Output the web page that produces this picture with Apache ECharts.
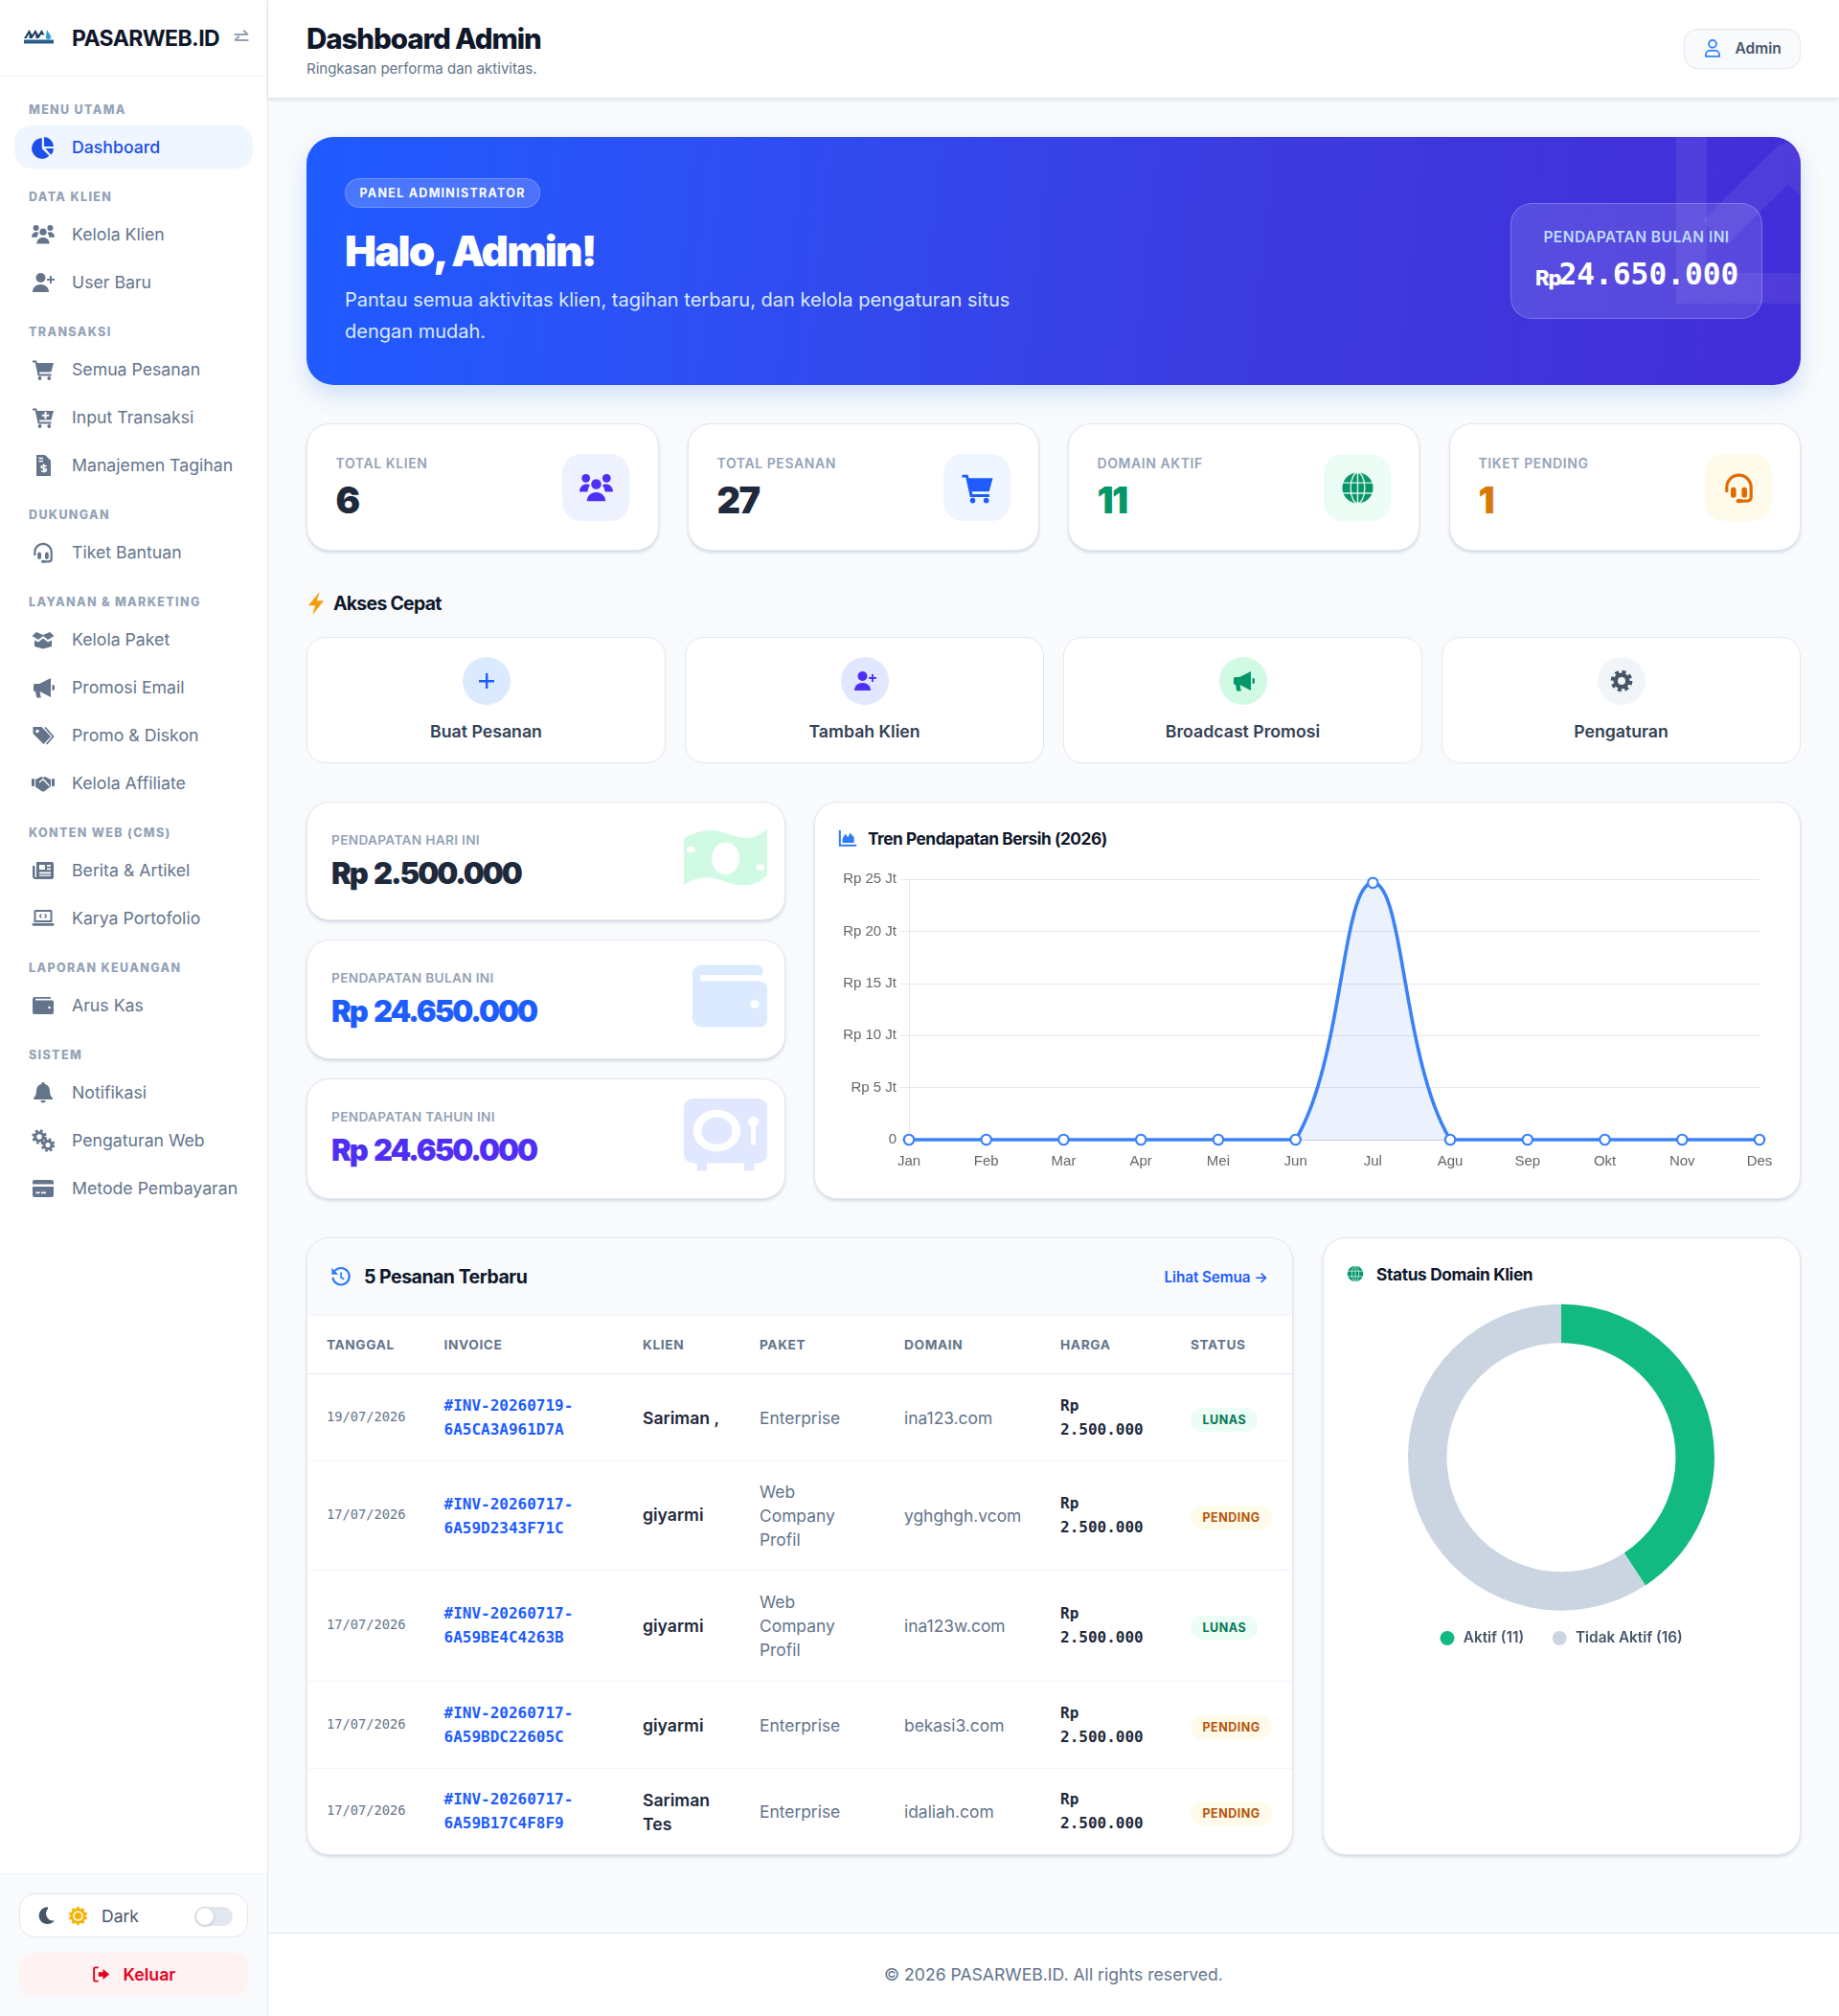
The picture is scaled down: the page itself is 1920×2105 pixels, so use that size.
<!DOCTYPE html>
<html lang="id"><head><meta charset="utf-8"><title>Dashboard Admin</title>
<script src="https://cdn.jsdelivr.net/npm/echarts@6/dist/echarts.min.js"></script>
<style>
*{box-sizing:border-box}
html,body{margin:0;padding:0;background:#f8fafc}
body{width:1920px;height:2105px;position:relative;overflow:hidden;font-family:Inter,sans-serif;color:#1e293b}
.a{position:absolute;white-space:nowrap}
.c{display:flex;align-items:center}
.card{position:absolute;background:#fff;border:1.5px solid #e2e8f0;border-radius:24px;box-shadow:0 2px 3px rgba(148,163,184,.35)}
.h{font-weight:800}
.mono{font-family:"DejaVu Sans Mono",monospace}
svg{display:block;fill:currentColor}
</style></head><body>
<script>
// ---------- chart data ----------
const months=['Jan','Feb','Mar','Apr','Mei','Jun','Jul','Agu','Sep','Okt','Nov','Des'];
const netRevenue=[0,0,0,0,0,0,24650000,0,0,0,0,0];
const yTickStep=5000000;
const yMax=25000000;
const domainLabels=['Aktif','Tidak Aktif'];
const domainCounts=[11,16];
const domainColors=['#12b981','#cbd5e1'];
// ---------- page content ----------
const navGroups=[
 ['MENU UTAMA',[['pie','Dashboard']]],
 ['DATA KLIEN',[['users','Kelola Klien'],['userplus','User Baru']]],
 ['TRANSAKSI',[['cart','Semua Pesanan'],['cartplus','Input Transaksi'],['file','Manajemen Tagihan']]],
 ['DUKUNGAN',[['headset','Tiket Bantuan']]],
 ['LAYANAN & MARKETING',[['box','Kelola Paket'],['horn','Promosi Email'],['tags','Promo & Diskon'],['hands','Kelola Affiliate']]],
 ['KONTEN WEB (CMS)',[['news','Berita & Artikel'],['laptop','Karya Portofolio']]],
 ['LAPORAN KEUANGAN',[['wallet','Arus Kas']]],
 ['SISTEM',[['bell','Notifikasi'],['cogs','Pengaturan Web'],['credit','Metode Pembayaran']]]
];
const statCards=[['TOTAL KLIEN','6','#1e293b','users','#eef2ff','#4f2ff5'],['TOTAL PESANAN','27','#1e293b','cart','#eff6ff','#1d5cff'],['DOMAIN AKTIF','11','#059669','globe','#ecfdf5','#059669'],['TIKET PENDING','1','#d97706','headset','#fffbeb','#e26a00']];
const quickLinks=[['Buat Pesanan','plus','#dbeafe','#1d5cff'],['Tambah Klien','userplus','#e0e7ff','#4f2ff5'],['Broadcast Promosi','horn','#d1fae5','#059669'],['Pengaturan','gear','#f1f5f9','#475569']];
const revenueCards=[['PENDAPATAN HARI INI','Rp 2.500.000','#1e293b'],['PENDAPATAN BULAN INI','Rp 24.650.000','#1d5cff'],['PENDAPATAN TAHUN INI','Rp 24.650.000','#4f2ff5']];
const orders=[
 ['19/07/2026','#INV-20260719-','6A5CA3A961D7A',['Sariman ,'],['Enterprise'],'ina123.com','LUNAS'],
 ['17/07/2026','#INV-20260717-','6A59D2343F71C',['giyarmi'],['Web','Company','Profil'],'yghghgh.vcom','PENDING'],
 ['17/07/2026','#INV-20260717-','6A59BE4C4263B',['giyarmi'],['Web','Company','Profil'],'ina123w.com','LUNAS'],
 ['17/07/2026','#INV-20260717-','6A59BDC22605C',['giyarmi'],['Enterprise'],'bekasi3.com','PENDING'],
 ['17/07/2026','#INV-20260717-','6A59B17C4F8F9',['Sariman','Tes'],['Enterprise'],'idaliah.com','PENDING']
];
const tableHead=['TANGGAL','INVOICE','KLIEN','PAKET','DOMAIN','HARGA','STATUS'];
const orderPrice=['Rp','2.500.000'];

const gearSvg=(cx,cy,s)=>`<circle cx="${cx}" cy="${cy}" r="${7.6*s}" fill="none" stroke="currentColor" stroke-width="${3*s}" stroke-dasharray="${3.2*s} ${2.8*s}"/><circle cx="${cx}" cy="${cy}" r="${5*s}" fill="none" stroke="currentColor" stroke-width="${3.6*s}"/>`;
const ic={
pie:'<path d="M10.8 2.2v11l7.6 7.6A10.8 10.8 0 1 1 10.8 2.2z"/><path d="M13 1a10.5 10.5 0 0 1 10 10H13z"/><path d="M14.5 13H23a10.6 10.6 0 0 1-2.9 6.8z"/>',
users:'<circle cx="4.6" cy="5" r="3"/><circle cx="19.4" cy="5" r="3"/><circle cx="12" cy="9.2" r="3.6"/><path d="M0 14.8c0-3.2 2.1-5.6 4.8-5.6 1.1 0 2 .3 2.8.9-1.1 1.3-1.7 2.9-1.8 4.7zM24 14.8c0-3.2-2.1-5.6-4.8-5.6-1.1 0-2 .3-2.8.9 1.1 1.3 1.7 2.9 1.8 4.7zM5.3 21.5c0-3.8 2.9-6.5 6.7-6.5s6.7 2.7 6.7 6.5z"/>',
userplus:'<circle cx="9.5" cy="7" r="5"/><path d="M1 22c0-5 3.6-8 8.5-8s8.5 3 8.5 8z"/><rect x="19" y="5" width="1.9" height="8"/><rect x="16" y="8" width="8" height="1.9"/>',
cart:'<path d="M1 2.5h4.2l.6 2.5H23l-2.6 9.5H8l.4 2h12.1v2H6.7L3.7 4.5H1z"/><circle cx="8.6" cy="21" r="1.9"/><circle cx="18.3" cy="21" r="1.9"/>',
cartplus:'<path d="M1 2.5h4.2l.6 2.5H23l-2.6 9.5H8l.4 2h12.1v2H6.7L3.7 4.5H1z"/><circle cx="8.6" cy="21" r="1.9"/><circle cx="18.3" cy="21" r="1.9"/><path fill="#fff" d="M13.5 6h2v2.8h2.8v2h-2.8v2.8h-2v-2.8h-2.8v-2h2.8z"/>',
file:'<path d="M5 1h9l6 6v16H5z"/><path fill="none" stroke="#fff" stroke-width="1.5" d="M15.5 13c-1-1.2-5.5-1.2-5.5.8s5.5 1 5.5 3-4.5 2-5.5.8M12.7 10.5v9M7.5 4.5H12M7.5 7.5H12"/>',
headset:'<path fill="none" stroke="currentColor" stroke-width="2.2" d="M3.3 15v-3.5a8.7 8.7 0 0 1 17.4 0v7c0 1.8-1.3 2.8-3 2.8H13"/><rect x="6.2" y="11.5" width="3.8" height="7.5" rx="1.9"/><rect x="14" y="11.5" width="3.8" height="7.5" rx="1.9"/><rect x="10" y="19.8" width="4.5" height="3" rx="1.5"/>',
box:'<path d="M.5 8L5 4l7 3 7-3 4.5 4-6.5 4-5-4-5 4zM3 12.5l4 2 5-4 5 4 4-2V19l-9 2.5L3 19z"/>',
horn:'<path d="M20 2L8 8H3.5A1.5 1.5 0 0 0 2 9.5v5A1.5 1.5 0 0 0 3.5 16H4l1.2 6.5h4.6L8.6 16 20 22zM21.5 9v6a3 3 0 0 0 0-6z"/>',
tags:'<path d="M1.5 3h9L20 13l-7.5 8-11-11z"/><circle cx="6" cy="7.5" r="1.8" fill="#fff"/><path fill="none" stroke="currentColor" stroke-width="1.7" d="M14 3.5l8.500 9.500-7 8"/>',
hands:'<rect y="7" width="3" height="8" rx=".8"/><rect x="21" y="7" width="3" height="8" rx=".8"/><path d="M4 8l6-3 2 .8L14 5l6 3v7l-7 5.5h-2l-7-5z"/><path fill="none" stroke="#fff" stroke-width="1.3" d="M8 11l4-3.5 6.5 7"/>',
news:'<path d="M5 3h16a2 2 0 0 1 2 2v14a2 2 0 0 1-2 2H4a3 3 0 0 1-3-3V7h2.500v11c0 .5.3 1 .8 1S5 18.5 5 18z"/><path fill="#fff" d="M8 6h6v5H8zM16 6h4v1.8h-4zM16 9.500h4v1.8h-4zM8 13.5h12v1.8H8zM8 16.5h12v1.2H8z"/>',
laptop:'<path fill-rule="evenodd" d="M4 3h16a1.5 1.5 0 0 1 1.5 1.500V16h-19V4.500A1.5 1.5 0 0 1 4 3zm.5 2v9h15V5z"/><rect x=".5" y="17" width="23" height="2.8" rx="1.4"/><path fill="none" stroke="currentColor" stroke-width="1.3" d="M10.3 7.5L8.5 9.5l1.8 2M13.7 7.5l1.8 2-1.8 2"/>',
wallet:'<path d="M3.5 3H20v1.8H4v1.7h17.5A1.5 1.5 0 0 1 23 8v11a2 2 0 0 1-2 2H3a2 2 0 0 1-2-2V5.500A2.5 2.5 0 0 1 3.5 3z"/><circle cx="18.5" cy="14" r="1.3" fill="#fff"/>',
bigwallet:'<path d="M3 .5h17.5a2 2 0 0 1 2 2v1.8H2.500v2.200h19A2.500 2.500 0 0 1 24 9v12a2.500 2.500 0 0 1-2.500 2.500H3a3 3 0 0 1-3-3v-17a3 3 0 0 1 3-3z"/><circle cx="20" cy="15" r="1.5" fill="#fff"/>',
bell:'<path d="M12 1a1.900 1.900 0 0 1 1.900 1.900c3.500.9 5.100 3.700 5.100 7.100 0 4 1 5.500 2.800 7.300V19H2.200v-1.700C4 15.500 5 14 5 10c0-3.400 1.600-6.200 5.100-7.100A1.900 1.900 0 0 1 12 1zM9.500 20h5a2.500 2.500 0 0 1-5 0z"/>',
cogs:gearSvg(8,8,.85)+gearSvg(17,16.5,.8),
gear:gearSvg(12,12,1.25),
credit:'<path d="M3 3h18a2 2 0 0 1 2 2v2.500H1V5a2 2 0 0 1 2-2zM1 10h22v9a2 2 0 0 1-2 2H3a2 2 0 0 1-2-2z"/><path fill="#fff" d="M4.500 15.500h4v1.700h-4zM10 15.500h5v1.700h-5z"/>',
globe:'<circle cx="12" cy="12" r="11"/><g fill="none" stroke="#fff" stroke-opacity=".85" stroke-width="1"><ellipse cx="12" cy="12" rx="5" ry="11"/><path d="M1 8.300h22M1 15.700h22M12 1v22"/></g>',
bolt:'<path d="M15.500 1L4.500 14h6.700L8.500 23l11-13.500h-6.800z"/>',
plus:'<path d="M11 4h2.400v7H20v2.400h-6.600V20H11v-6.600H4V11h7z"/>',
money:'<path d="M0 4.500c3-2 5-3 8-3 4 0 6 3 10 3 2 0 4-1.500 6-3.500v18c-2 2.500-4 4-7 4-4 0-7-3-10-3-3 0-5 1-7 3z"/><ellipse cx="12" cy="12.500" rx="4" ry="6.300" fill="#fff"/><circle cx="2" cy="9" r="1.200" fill="#fff"/><circle cx="22" cy="16" r="1.200" fill="#fff"/>',
vault:'<rect x="0" y="0" width="24" height="21" rx="2.800"/><rect x="3.800" y="20" width="2.800" height="3.500"/><rect x="17.400" y="20" width="2.800" height="3.500"/><circle cx="9.500" cy="10.500" r="5.600" fill="none" stroke="#fff" stroke-width="2.400"/><circle cx="20" cy="7.500" r="1.600" fill="#fff"/><rect x="19.300" y="7.500" width="1.400" height="7.500" fill="#fff"/>',
history:'<g fill="none" stroke="currentColor" stroke-width="2.300"><path d="M4.800 5.500A9.500 9.500 0 1 1 2.600 13"/><path d="M12 7v5.500l3.500 2.500" stroke-width="1.800"/></g><path d="M1.500 2v7.500H9z"/>',
area:'<path d="M1 2h2.400v18H23v2.400H1z"/><path d="M5.500 18v-5.500L9 7l3.500 4 2.500-5.500 5 5.500v7z"/>',
user:'<g fill="none" stroke="currentColor" stroke-width="2.100"><circle cx="12" cy="7" r="4.700"/><path d="M3.500 22.500v-1.800c0-3.300 2.400-5.200 5-5.200h7c2.600 0 5 1.900 5 5.200v1.800z"/></g>',
moon:'<path d="M14.500 1.500a10.700 10.700 0 1 0 8 17 9 9 0 0 1-8-15z"/>',
sun:'<path d="M12 0l2.600 3.800L19 2.600l.2 4.600 4.300 1.300-2.600 3.500 2.600 3.500-4.300 1.300-.2 4.600-4.400-1.200L12 24l-2.600-3.800L5 21.400l-.2-4.600L.5 15.500 3.100 12 .5 8.500l4.300-1.300L5 2.600l4.400 1.200z"/><circle cx="12" cy="12" r="6" fill="#fff"/><circle cx="12" cy="12" r="4.200"/>',
signout:'<path fill="none" stroke="currentColor" stroke-width="2.400" d="M8.500 3H4.500A1.800 1.800 0 0 0 2.700 4.800v14.400A1.800 1.800 0 0 0 4.500 21h4"/><path d="M8.500 9.200h6V5l8.500 7-8.500 7v-4.200h-6z"/>',
swap:'<g fill="none" stroke="currentColor" stroke-width="2.800"><path d="M2 8h19M15 2.500L21 8M22 16H3M9 10.500L3 16"/></g>'
};
const svg=(k,s,col,extra='')=>`<svg viewBox="0 0 24 24" width="${s}" height="${s}" style="color:${col};${extra}">${ic[k]}</svg>`;
let html='';
const A=(x,y,w,h,st,inner='',cls='a')=>{html+=`<div class="${cls}" style="left:${x}px;top:${y}px;${w!=null?`width:${w}px;`:''}${h!=null?`height:${h}px;`:''}${st}">${inner}</div>`;};
// text vertically centred on y
const T=(x,y,st,txt,cls='a c')=>{html+=`<div class="${cls}" style="left:${x}px;top:${y-20}px;height:40px;${st}">${txt}</div>`;};

// ---------- sidebar ----------
A(0,0,280,2105,'background:#fff;border-right:1.5px solid #e2e8f0');
A(0,79,279,1,'background:#f1f5f9');
html+=`<svg class="a" style="left:25px;top:29px" width="31" height="17" viewBox="0 0 31 17"><path fill="#1c3f66" d="M0 11L5.5 2l3 5.5L12 2l3 5.5L18.5 2l3 5.5h-3L18.5 6l-3 5h-3L12 6l-3.500 5h-3L5.500 6l-3 5z"/><path fill="#2aa3d9" d="M24 2l4 6.500c1 2-.5 3.500-2.500 3.500s-3.500-1.500-2.500-3.500z"/><rect y="12.500" width="31" height="4" fill="#2a5d8c"/></svg>`;
T(75,40,'font-size:23px;font-weight:700;letter-spacing:-.6px;color:#0f172a','PASARWEB.ID');
A(243,30,18,18,'',svg('swap',18,'#94a3b8'));
let y=90;
navGroups.forEach(([g,items])=>{
  T(30,y+24.5,'font-size:12.5px;font-weight:800;letter-spacing:1.35px;color:#94a3b8',g);
  y+=41;
  items.forEach(([icon,label])=>{
    const active=label==='Dashboard';
    if(active) A(15,y,249,45,'background:#eff6ff;border-radius:18px');
    A(33,y+10.5,24,24,'',svg(icon,24,active?'#1d4fe8':'#64748b'));
    T(75,y+22.7,`font-size:17.7px;font-weight:${active?500:400};color:${active?'#1d4fe8':'#64748b'}`,label);
    y+=50;
  });
});
A(0,1956,279,149,'background:#f8fafc;border-top:1.5px solid #eef2f7');
A(20,1977,239,46,'background:#fff;border:1.5px solid #e2e8f0;border-radius:16px');
A(38,1990,20,20,'',svg('moon',20,'#475569'));
A(71,1990,21,21,'',svg('sun',21,'#f5b301'));
T(106,2000.5,'font-size:17.5px;color:#475569','Dark');
A(203,1991,40,20,'background:#e2e8f0;border-radius:10px');
A(203.5,1991,20,20,'background:#fff;border:1.5px solid #cbd5e1;border-radius:50%;box-shadow:0 1px 2px rgba(0,0,0,.15)');
A(20,2039,239,45,'background:#fef2f2;border-radius:16px');
A(95.5,2052,19,19,'',svg('signout',19,'#e6001f'));
T(128.5,2061.5,'font-size:17.7px;font-weight:600;color:#e6001f','Keluar');

// ---------- top bar ----------
A(280,0,1640,102,'background:#fff;box-shadow:0 2px 4px rgba(148,163,184,.3)');
T(320,39.5,'font-size:29.5px;letter-spacing:-1.08px;color:#0f172a','Dashboard Admin','a c h');
T(320,71.5,'font-size:15px;color:#64748b','Ringkasan performa dan aktivitas.');
A(1758,30,122,42,'background:#f8fafc;border:1.5px solid #e2e8f0;border-radius:14px');
A(1778,40,20,21,'',svg('user',20,'#2f80ff'));
T(1811.5,50.5,'font-size:15.5px;font-weight:600;color:#475569','Admin');

// ---------- hero ----------
A(320,143,1560,259,'background:linear-gradient(96deg,#1f5bff 0%,#2c50f5 25%,#3c3ce0 62%,#432dd8 100%);border-radius:28px;box-shadow:0 10px 22px rgba(59,130,246,.22)');
html+=`<svg class="a" style="left:320px;top:143px;border-radius:28px" width="1560" height="259"><g fill="#fff" fill-opacity=".07"><rect x="1430" y="0" width="32" height="174"/><rect x="1462" y="142" width="98" height="32"/></g><path fill="none" stroke="#fff" stroke-opacity=".07" stroke-width="36" stroke-linejoin="round" d="M1470 100L1547 24L1600 76"/></svg>`;
A(360,186,204,31,'background:rgba(255,255,255,.18);border:1.5px solid rgba(255,255,255,.22);border-radius:16px');
T(375.5,201,'font-size:12.5px;font-weight:700;letter-spacing:1.28px;color:#fff','PANEL ADMINISTRATOR');
T(360,262,'font-size:44px;font-weight:900;color:#fff;letter-spacing:-1.85px','Halo, Admin!','a c h');
T(360,313,'font-size:20px;color:#dbeafe','Pantau semua aktivitas klien, tagihan terbaru, dan kelola pengaturan situs');
T(360,346,'font-size:20px;color:#dbeafe','dengan mudah.');
A(1577,212,263,121,'background:rgba(255,255,255,.12);border:1.5px solid rgba(255,255,255,.22);border-radius:22px');
T(1577,247,'width:263px;justify-content:center;font-size:15.5px;font-weight:600;letter-spacing:.45px;color:#bfdbfe','PENDAPATAN BULAN INI');
T(1603,290,'font-size:22px;font-weight:800;color:#fff;letter-spacing:-1px','Rp');
T(1627.5,286,'font-size:31.2px;font-weight:700;color:#fff;','24.650.000','a c mono');

// ---------- stat cards ----------
[320,718,1115,1513].forEach((x,i)=>{
  const [l,v,c,icn,bg,fg]=statCards[i];
  A(x,441.5,i==0?368:367,133.5,'','', 'card');
  T(x+30.5,483,'font-size:14px;font-weight:600;letter-spacing:.58px;color:#94a3b8',l);
  T(x+30.5,522,`font-size:38px;font-weight:900;letter-spacing:-1.6px;color:${c}`,v,'a c h');
  A(x+267,474,70,70,`background:${bg};border-radius:20px`);
  A(x+284.5,491.5,35,35,'',svg(icn,35,fg));
});

// ---------- quick access ----------
A(317,617,26,26,'',svg('bolt',26,'#f59e0b'));
T(348,630,'font-size:19.5px;font-weight:700;letter-spacing:-.75px;color:#0f172a','Akses Cepat');
[320,715,1110,1505].forEach((x,i)=>{
  const w=375;
  const [l,icn,bg,fg]=quickLinks[i];
  A(x,664.5,w,132.5,'background:#fff;border:1.5px solid #e2e8f0;border-radius:20px');
  A(x+w/2-25,686,50,50,`background:${bg};border-radius:50%`);
  A(x+w/2-12,699,24,24,'',svg(icn,24,fg));
  T(x,763.5,`width:${w}px;justify-content:center;font-size:17.7px;font-weight:600;color:#334155`,l);
});

// ---------- revenue cards ----------
[[837,124],[981,125],[1126,126]].forEach(([yy,h],i)=>{
  const [l,v,c]=revenueCards[i];
  A(320,yy,500,h,'','', 'card');
  T(346,yy+40,'font-size:13.7px;font-weight:600;letter-spacing:.3px;color:#94a3b8',l);
  T(346,yy+74.5,`font-size:31px;font-weight:900;color:${c};letter-spacing:-2px;word-spacing:3px`,v,'a c h');
});
A(714,863,87,64,'',`<svg viewBox="0 0 24 24" width="87" height="64" preserveAspectRatio="none" style="color:#d1fae5">${ic.money}</svg>`);
A(723,1006,78,68,'',`<svg viewBox="0 0 24 24" width="78" height="68" preserveAspectRatio="none" style="color:#dbeafe">${ic.bigwallet}</svg>`);
A(714,1147,87,77,'',`<svg viewBox="0 0 24 24" width="87" height="77" preserveAspectRatio="none" style="color:#e0e7ff">${ic.vault}</svg>`);

// ---------- trend card ----------
A(850,837,1030,415,'','', 'card');
A(875,865,20,20,'',svg('area',20,'#2f7bf6'));
T(906,875.5,'font-size:17.3px;font-weight:700;letter-spacing:-.47px;color:#0f172a','Tren Pendapatan Bersih (2026)');
A(860,890,1015,355,'','<div id="trend" style="width:1015px;height:355px"></div>');

// ---------- table card ----------
A(320,1292,1030,645,'overflow:hidden','', 'card');
A(321.5,1293.5,1027,80,'background:#f8fafc;border-bottom:1.5px solid #f1f5f9;border-radius:22px 22px 0 0');
A(345,1322,22,22,'',svg('history',22,'#2f7bf6'));
T(380,1333,'font-size:19.5px;font-weight:700;letter-spacing:-.5px;color:#0f172a','5 Pesanan Terbaru');
T(1215.5,1333,'font-size:15.3px;font-weight:600;letter-spacing:-.1px;color:#1d5cff','Lihat Semua →');
const colX=[341,463.5,671,793,944,1107,1243];
tableHead.forEach((t,i)=>T(colX[i],1404,'font-size:13.7px;font-weight:700;letter-spacing:.6px;color:#64748b',t));
A(321.5,1434,1027,1,'background:#e2e8f0');
const rowTop=[1435,1525,1639,1755,1846];
const rowEnd=[1525,1639,1755,1846,1936];
const lines=(arr,lh)=>arr.map(s=>`<div style="height:${lh}px;line-height:${lh}px">${s}</div>`).join('');
orders.forEach((o,i)=>{
  const cy=(rowTop[i]+rowEnd[i])/2;
  if(i>0) A(321.5,rowTop[i]-.5,1027,1,'background:#f1f5f9');
  const blk=(x,st,arr,lh,dy=0,cls='a')=>A(x,cy-arr.length*lh/2+dy,null,arr.length*lh,st,lines(arr,lh),cls);
  blk(colX[0],'font-size:13.7px;color:#64748b',[o[0]],20,-1,'a mono');
  blk(colX[1],'font-size:16px;font-weight:700;color:#1d5cff',[o[1],o[2]],25,i===1?.8:0,'a mono');
  blk(colX[2],'font-size:17.6px;font-weight:600;color:#1e293b',o[3],25,i===1?-1:.5);
  blk(colX[3],'font-size:17.4px;color:#64748b',o[4],25,.5);
  blk(colX[4],'font-size:17.4px;color:#64748b',[o[5]],25,.5);
  blk(colX[5],'font-size:16px;font-weight:700;color:#1e293b',orderPrice,25,i===0?-.5:0,'a mono');
  const ok=o[6]==='LUNAS';
  A(colX[6],cy-10,ok?70:85,25,`background:${ok?'#ecfdf5':'#fffbeb'};border-radius:13px`);
  T(colX[6]+12.5,cy+2.5,`font-size:12.5px;font-weight:700;letter-spacing:.5px;color:${ok?'#047857':'#b9540b'}`,o[6]);
});
// ---------- donut card ----------
A(1381,1292,499,645,'','', 'card');
A(1406,1321,18,18,'',svg('globe',18,'#059669'));
T(1437,1330,'font-size:17.3px;font-weight:700;letter-spacing:-.35px;color:#0f172a','Status Domain Klien');
A(1383,1345,494,400,'','<div id="donut" style="width:494px;height:400px"></div>');

// ---------- footer ----------
A(280,2018,1640,87,'background:#fff;border-top:1.5px solid #e2e8f0');
T(280,2061,'width:1640px;justify-content:center;font-size:17.6px;color:#64748b','© 2026 PASARWEB.ID. All rights reserved.');

document.body.insertAdjacentHTML('beforeend',html);

// ---------- trend chart ----------
const TENSION=0.4;
function controlPoints(pts,i,box){
  const cur=pts[i],prev=pts[i-1]||cur,next=pts[i+1]||cur;
  const d01=Math.hypot(cur[0]-prev[0],cur[1]-prev[1]),d12=Math.hypot(next[0]-cur[0],next[1]-cur[1]);
  const tot=d01+d12||1,fa=TENSION*d01/tot,fb=TENSION*d12/tot;
  const capY=v=>Math.max(box.y,Math.min(box.y+box.height,v));
  const capX=v=>Math.max(box.x,Math.min(box.x+box.width,v));
  return {
    inn:[capX(cur[0]-fa*(next[0]-prev[0])),capY(cur[1]-fa*(next[1]-prev[1]))],
    out:[capX(cur[0]+fb*(next[0]-prev[0])),capY(cur[1]+fb*(next[1]-prev[1]))]
  };
}
function renderSegment(params,api){
  const i=params.dataIndex;
  if(i>=netRevenue.length-1) return null;
  const box=params.coordSys;
  const pts=netRevenue.map((v,k)=>api.coord([k,v]));
  const a=pts[i],b=pts[i+1],c1=controlPoints(pts,i,box).out,c2=controlPoints(pts,i+1,box).inn;
  const curve=[];
  for(let k=0;k<=32;k++){const t=k/32,u=1-t;
    curve.push([u*u*u*a[0]+3*u*u*t*c1[0]+3*u*t*t*c2[0]+t*t*t*b[0],u*u*u*a[1]+3*u*u*t*c1[1]+3*u*t*t*c2[1]+t*t*t*b[1]]);}
  const base=box.y+box.height;
  return {type:'group',children:[
    {type:'polygon',shape:{points:[[a[0],base],...curve,[b[0],base]]},style:{fill:'rgba(59,130,246,0.1)',stroke:null},silent:true},
    {type:'polyline',shape:{points:curve},style:{fill:null,stroke:'#3b82f6',lineWidth:3.6,lineJoin:'round'},silent:true}
  ]};
}
const trend=echarts.init(document.getElementById('trend'),null,{renderer:'canvas'});
trend.setOption({
  animation:false,
  grid:{left:89,right:38,top:28,bottom:55,containLabel:false},
  xAxis:{type:'category',data:months,boundaryGap:false,
    axisLine:{lineStyle:{color:'#c9ced6',width:1}},axisTick:{show:false},
    axisLabel:{color:'#666',fontSize:15,fontFamily:'Liberation Sans, Arial',margin:15,interval:0}},
  yAxis:{type:'value',min:0,max:yMax,interval:yTickStep,
    axisLine:{show:true,lineStyle:{color:'#e5e7eb'}},axisTick:{show:true,length:9,lineStyle:{color:'#e5e7eb'}},
    splitLine:{lineStyle:{color:'#e5e7eb',width:1}},
    axisLabel:{color:'#666',fontSize:15,fontFamily:'Liberation Sans, Arial',margin:13,padding:[2,0,0,0],
      formatter:v=>v===0?'0':'Rp '+(v/1000000)+' Jt'}},
  series:[
    {type:'custom',name:'Pendapatan Bersih',coordinateSystem:'cartesian2d',clip:false,z:2,
      encode:{x:0,y:1},data:netRevenue.map((v,i)=>[i,v]),renderItem:renderSegment,silent:true},
    {type:'line',name:'Pendapatan Bersih',data:netRevenue,z:3,showSymbol:true,showAllSymbol:true,
      symbol:'circle',symbolSize:10.5,lineStyle:{opacity:0,width:0},
      itemStyle:{color:'#fff',borderColor:'#3b82f6',borderWidth:2.2},silent:true}
  ]
});

// ---------- donut chart ----------
const donut=echarts.init(document.getElementById('donut'),null,{renderer:'canvas'});
donut.setOption({
  animation:false,
  legend:{left:115.5,top:353,itemWidth:15,itemHeight:15,itemGap:29.5,icon:'circle',selectedMode:false,
    data:domainLabels,
    formatter:n=>`${n} (${domainCounts[domainLabels.indexOf(n)]})`,
    textStyle:{color:'#475569',fontSize:15.3,fontWeight:600,fontFamily:'Inter',padding:[0,0,0,4.3]}},
  series:[{type:'pie',center:[247,176.7],radius:[119.5,160],startAngle:90,clockwise:true,silent:true,
    label:{show:false},labelLine:{show:false},
    data:domainLabels.map((n,i)=>({name:n,value:domainCounts[i],itemStyle:{color:domainColors[i]}}))}]
});
</script>
</body></html>
